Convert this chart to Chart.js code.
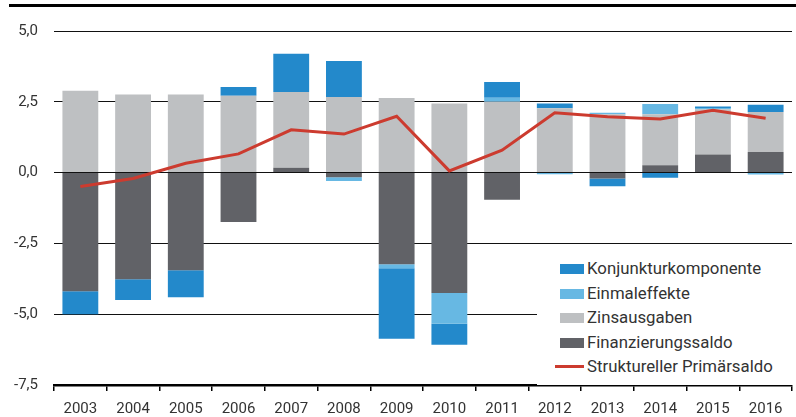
<!DOCTYPE html>
<html lang="de">
<head>
<meta charset="utf-8">
<script src="https://cdn.jsdelivr.net/npm/chart.js@4"></script>
<style>
  html, body { margin: 0; padding: 0; background: #fff; }
  #wrap { position: relative; width: 796px; height: 417px; }
  #topRule { position: absolute; left: 9px; right: 0; top: 4px; height: 3px; background: #000; }
  #legende { position: absolute; left: 537px; right: 0; top: 252px; padding: 4px 0 6px 18px; background: #fff; font-family: Roboto, sans-serif; font-size: 16.8px; color: #333; }
  #legende div { height: 24.6px; line-height: 24.6px; white-space: nowrap; }
  #legende span.box { display: inline-block; width: 24px; height: 10px; margin-left: 5px; margin-right: 3px; vertical-align: 0px; }
  #legende span.strich { display: inline-block; width: 29px; height: 3px; margin-right: 3px; vertical-align: 4px; }
</style>
</head>
<body>
<div id="wrap">
  <div id="topRule"></div>
  <canvas id="saldoChart" width="796" height="417"></canvas>
  <div id="legende"></div>
</div>
<script>
const jahre = ['2003', '2004', '2005', '2006', '2007', '2008', '2009', '2010', '2011', '2012', '2013', '2014', '2015', '2016'];

const finanzierungssaldo = [-4.19, -3.77, -3.45, -1.74, 0.17, -0.16, -3.24, -4.25, -0.96, 0, -0.21, 0.26, 0.64, 0.73];
const zinsausgaben = [2.89, 2.76, 2.76, 2.71, 2.68, 2.67, 2.63, 2.44, 2.50, 2.27, 2.06, 1.80, 1.60, 1.41];
const einmaleffekte = [0, 0, 0, 0, 0, -0.14, -0.14, -1.09, 0.14, -0.06, 0.05, 0.36, 0.04, -0.07];
const konjunkturkomponente = [-0.81, -0.73, -0.95, 0.31, 1.35, 1.27, -2.49, -0.74, 0.56, 0.17, -0.27, -0.18, 0.05, 0.26];
const primaersaldo = [-0.49, -0.21, 0.33, 0.66, 1.51, 1.36, 1.99, 0.06, 0.79, 2.11, 1.97, 1.89, 2.20, 1.92];

const yTicks = [-7.5, -5, -2.5, 0, 2.5, 5];

const farben = {
    konj: '#2389cb',
    einmal: '#67b8e3',
    zins: '#bec0c2',
    fin: '#616267',
    linie: '#cc3b2f'
};

function balken(label, daten, farbe) {
    return {
        type: 'bar',
        label: label,
        data: daten,
        backgroundColor: farbe,
        borderWidth: 0,
        stack: 'saldo',
        order: 1,
        barPercentage: 0.68,
        categoryPercentage: 1
    };
}

const ctx = document.getElementById('saldoChart').getContext('2d');
new Chart(ctx, {
    type: 'bar',
    data: {
        labels: jahre,
        datasets: [
            balken('Finanzierungssaldo', finanzierungssaldo, farben.fin),
            balken('Zinsausgaben', zinsausgaben, farben.zins),
            balken('Einmaleffekte', einmaleffekte, farben.einmal),
            balken('Konjunkturkomponente', konjunkturkomponente, farben.konj),
            {
                type: 'line',
                label: 'Struktureller Primärsaldo',
                data: primaersaldo,
                borderColor: farben.linie,
                borderWidth: 3,
                pointRadius: 0,
                tension: 0,
                stack: 'linie',
                order: 0
            }
        ]
    },
    options: {
        responsive: false,
        animation: false,
        layout: { padding: { top: 31, right: 4, left: 0, bottom: 0 } },
        plugins: {
            legend: { display: false },
            tooltip: { enabled: false }
        },
        scales: {
            x: {
                stacked: true,
                offset: true,
                border: { display: true, color: '#000', width: 2.5 },
                grid: {
                    offset: true,
                    drawOnChartArea: false,
                    drawTicks: true,
                    tickLength: 6,
                    lineWidth: 1.5,
                    color: function (c) { return c.index === jahre.length ? 'rgba(0,0,0,0)' : '#000'; }
                },
                ticks: {
                    color: '#333',
                    padding: 9,
                    maxRotation: 0,
                    autoSkip: false,
                    font: { family: 'Roboto', size: 15 }
                },
                afterFit: function (s) { s.height = 32; }
            },
            y: {
                stacked: true,
                min: -7.5,
                max: 5,
                afterBuildTicks: function (s) { s.ticks = yTicks.map(v => ({ value: v })); },
                border: { display: false },
                grid: {
                    color: '#111',
                    lineWidth: 1,
                    drawTicks: false
                },
                ticks: {
                    color: '#333',
                    padding: 16,
                    font: { family: 'Roboto', size: 15 },
                    callback: function (value) {
                        return value.toFixed(1).replace('.', ',');
                    }
                },
                afterFit: function (s) { s.width = 54; }
            }
        }
    }
});

// Legende rechts unten im Diagramm, mit weissem Hintergrund ueber dem Gitter
const legendeEintraege = [
    { text: 'Konjunkturkomponente', farbe: farben.konj },
    { text: 'Einmaleffekte', farbe: farben.einmal },
    { text: 'Zinsausgaben', farbe: farben.zins },
    { text: 'Finanzierungssaldo', farbe: farben.fin },
    { text: 'Struktureller Primärsaldo', farbe: farben.linie, linie: true }
];
const legende = document.getElementById('legende');
legendeEintraege.forEach(function (e) {
    const zeile = document.createElement('div');
    const symbol = document.createElement('span');
    symbol.className = e.linie ? 'strich' : 'box';
    symbol.style.background = e.farbe;
    zeile.appendChild(symbol);
    zeile.appendChild(document.createTextNode(e.text));
    legende.appendChild(zeile);
});
</script>
</body>
</html>
